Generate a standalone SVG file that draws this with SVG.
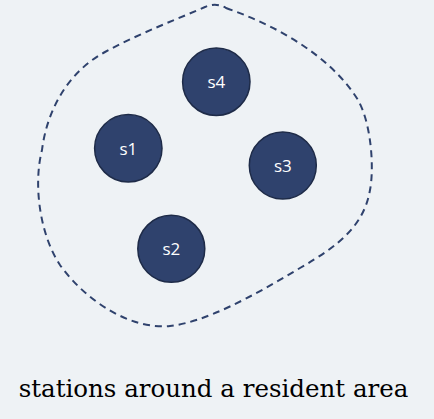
<svg xmlns="http://www.w3.org/2000/svg" width="434" height="419" viewBox="0 0 434 419">
<style>
.st circle{fill:#2f426d;stroke:#1e2b48;stroke-width:1.5}
.st text{fill:#ffffff;font-family:"Open Sans","Noto Sans",sans-serif;font-size:17px;text-anchor:middle;dominant-baseline:central}
.area{fill:none;stroke:#2f426d;stroke-width:2;stroke-dasharray:7 5}
</style>
<rect width="434" height="419" fill="#eef2f5"/>
<g id="area">
<path class="area" d="M226,8 C275,25 330,55 358,100 C372,125 374,170 370,190 C364,225 340,245 300,268 C250,298 205,322 170,326 C130,330 85,300 60,265 C40,235 33,185 42,150 C47,110 68,72 105,52 C140,33 180,18 205,7 Q216,2 226,8 Z"/>
</g>
<g id="s4" class="st"><circle cx="216.3" cy="81.8" r="33.7"/><text x="216.3" y="81.8">s4</text></g>
<g id="s1" class="st"><circle cx="128.3" cy="148.3" r="33.7"/><text x="128.3" y="148.3">s1</text></g>
<g id="s3" class="st"><circle cx="282.8" cy="165.5" r="33.5"/><text x="282.8" y="165.5">s3</text></g>
<g id="s2" class="st"><circle cx="171.3" cy="248.8" r="33.5"/><text x="171.3" y="248.8">s2</text></g>
<g id="connectors"/>
<text x="213.5" y="396.5" font-family="'DejaVu Serif',serif" font-size="24.5" fill="#000" text-anchor="middle">stations around a resident area</text>
</svg>
